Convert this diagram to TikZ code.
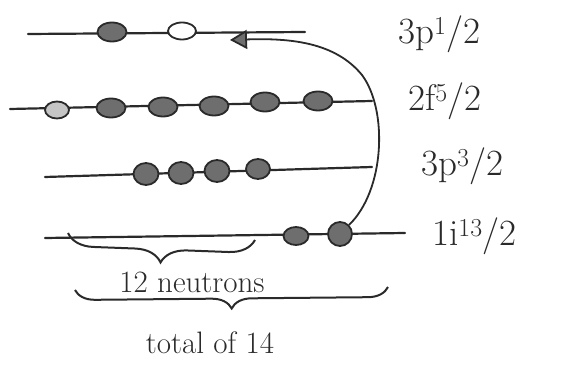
\documentclass[tikz,border=0pt]{standalone}
\usetikzlibrary{arrows.meta,decorations.pathreplacing,shapes.geometric}
\definecolor{ink}{HTML}{2A2A2A}
\definecolor{dot}{HTML}{6E6E6E}
\tikzset{
  level/.style={draw=ink, line width=2.2pt, line cap=round},
  full/.style={ellipse, draw=ink, fill=dot, line width=1.8pt, minimum width=29pt, minimum height=19pt, inner sep=0pt},
  hollow/.style={ellipse, draw=ink, fill=white, line width=1.8pt, minimum width=28pt, minimum height=17pt, inner sep=0pt},
  lab/.style={text=ink, font=\fontsize{37}{40}\selectfont, anchor=west, inner sep=0pt},
  note/.style={text=ink, font=\fontsize{31}{34}\selectfont, inner sep=0pt},
  brc/.style={draw=ink, line width=2pt, decorate, decoration={brace, mirror}},
}
\begin{document}
\begin{tikzpicture}[x=1pt,y=-1pt]
\useasboundingbox (0,0) rectangle (571,366);
% levels
\coordinate (a1) at (28,34); \coordinate (a2) at (305,32);
\coordinate (b1) at (10,109); \coordinate (b2) at (372,101);
\coordinate (c1) at (45,177); \coordinate (c2) at (372,167);
\coordinate (d1) at (45,238); \coordinate (d2) at (405,233);
\draw[level] (a1) -- (a2);
\draw[level] (b1) -- (b2);
\draw[level] (c1) -- (c2);
\draw[level] (d1) -- (d2);
% particles
\node[full] (pa1) at (112,32) {};
\node[hollow] (pa2) at (182,31) {};
\node[hollow, fill=dot!40, minimum width=24pt] (pb1) at (57,110) {};
\node[full] (pb2) at (111,108) {};
\node[full] (pb3) at (163,107) {};
\node[full] (pb4) at (214,106) {};
\node[full] (pb5) at (265,102) {};
\node[full] (pb6) at (318,101) {};
\node[full, minimum width=25pt, minimum height=22pt] (pc1) at (146,174) {};
\node[full, minimum width=25pt, minimum height=22pt] (pc2) at (181,173) {};
\node[full, minimum width=25pt, minimum height=22pt] (pc3) at (217,171) {};
\node[full, minimum width=24pt, minimum height=20pt] (pc4) at (258,169) {};
\node[full, minimum width=25pt, minimum height=18pt] (pd1) at (296,236) {};
\node[full, minimum width=24pt, minimum height=24pt] (pd2) at (340,234) {};
% arrow
\coordinate (tip) at (230,40);
\draw[draw=ink, line width=1.8pt, -{Triangle[length=17pt,width=19pt,fill=dot]}]
  (pd2.north east) .. controls (385,190) and (388,110) .. (362,75)
  .. controls (335,42) and (290,38) .. (tip);
% labels
\node[lab] (l1) at (398,34) {3p\textsuperscript{1}/2};
\node[lab] (l2) at (408,101) {2f\textsuperscript{5}/2};
\node[lab] (l3) at (421,166) {3p\textsuperscript{3}/2};
\node[lab] (l4) at (432,236) {1i\textsuperscript{13}/2};
% braces
\coordinate (br1a) at (68,233); \coordinate (br1b) at (255,240);
\draw[brc, decoration={amplitude=26pt}] (br1a) -- (br1b);
\node[note] (n1) at (192,282) {12 neutrons};
\coordinate (br2a) at (75,290); \coordinate (br2b) at (388,287);
\draw[brc, decoration={amplitude=20pt}] (br2a) -- (br2b);
\node[note] (n2) at (210,343) {total of 14};
\end{tikzpicture}
\end{document}
